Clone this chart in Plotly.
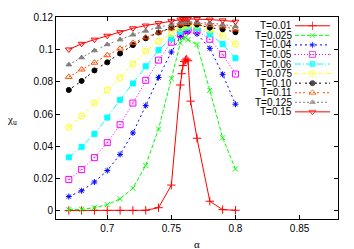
import plotly.graph_objects as go

# ---------------- data ----------------
alpha_left = [0.67, 0.68, 0.69, 0.70, 0.71, 0.72, 0.73, 0.74, 0.75]
alpha_peak = [0.757, 0.759, 0.761, 0.763]
alpha_right = [0.77, 0.78, 0.79, 0.80]
alpha_peak_001 = [0.757, 0.758, 0.759, 0.760, 0.761, 0.762, 0.763, 0.765]

labels = ["T=0.01", "T=0.025", "T=0.04", "T=0.05", "T=0.06",
          "T=0.075", "T=0.10", "T=0.11", "T=0.125", "T=0.15"]

chi_001 = [0.0003, 0.0003, 0.0003, 0.0003, 0.0003, 0.0003, 0.0004, 0.002, 0.016,
           0.078, 0.085, 0.090, 0.0925, 0.0935, 0.094, 0.093, 0.068,
           0.045, 0.006, 0.0008, 0.0004]
chi_0025 = [0.0008, 0.001, 0.002, 0.0039, 0.0075, 0.0141, 0.0282, 0.0507, 0.0819,
            0.104, 0.107, 0.1075, 0.106,
            0.1031, 0.0747, 0.0453, 0.026]
chi_004 = [0.0089, 0.0125, 0.0179, 0.025, 0.035, 0.0483, 0.0652, 0.0826, 0.0984,
           0.108, 0.1105, 0.1112, 0.1108,
           0.1096, 0.1007, 0.0846, 0.0661]
chi_005 = [0.0195, 0.0256, 0.033, 0.0423, 0.0534, 0.0668, 0.0809, 0.0934, 0.1045,
           0.1095, 0.112, 0.1125, 0.1122,
           0.1118, 0.1063, 0.0969, 0.0848]
chi_006 = [0.0332, 0.0397, 0.0477, 0.0578, 0.0688, 0.0789, 0.0896, 0.0996, 0.1067,
           0.111, 0.1133, 0.1138, 0.1136,
           0.1132, 0.1093, 0.1033, 0.0946]
chi_0075 = [0.0518, 0.0588, 0.0668, 0.0749, 0.0826, 0.091, 0.099, 0.1051, 0.1097,
            0.113, 0.1145, 0.115, 0.1148,
            0.1146, 0.1121, 0.1087, 0.1033]
chi_010 = [0.0749, 0.0805, 0.087, 0.092, 0.0975, 0.1027, 0.1069, 0.1105, 0.1135,
           0.115, 0.116, 0.1163, 0.116,
           0.1155, 0.1135, 0.1125, 0.1107]
chi_011 = [0.083, 0.0876, 0.0918, 0.0964, 0.1005, 0.1041, 0.1075, 0.1105, 0.113,
           0.1155, 0.1163, 0.1166, 0.1165,
           0.1163, 0.1153, 0.1143, 0.1125]
chi_0125 = [0.0906, 0.095, 0.0993, 0.1031, 0.1061, 0.1091, 0.1115, 0.1138, 0.1155,
            0.1167, 0.1172, 0.1174, 0.1173,
            0.117, 0.1163, 0.1155, 0.1143]
chi_015 = [0.1, 0.1035, 0.1061, 0.1085, 0.1107, 0.1131, 0.1148, 0.1163, 0.1175,
           0.1185, 0.1189, 0.119, 0.1189,
           0.1188, 0.1185, 0.118, 0.1172]

xticks = [0.7, 0.75, 0.8, 0.85]
yticks = [0, 0.02, 0.04, 0.06, 0.08, 0.1, 0.12]

# ---------------- styles (gnuplot postscript look) ----------------
styles = [
    dict(color="#ff0000", dash="solid", symbol="cross-thin-open", size=6),
    dict(color="#00ff00", dash="4px,2px", symbol="x-thin-open", size=5),
    dict(color="#0000ff", dash="2px,3px", symbol="asterisk-open", size=5),
    dict(color="#ff00ff", dash="1px,2px", symbol="square-open-dot", size=6),
    dict(color="#00ffff", dash="6px,2px,1px,2px", symbol="square", size=5),
    dict(color="#ffff00", dash="3px,2px,1px,2px", symbol="circle-open-dot", size=6),
    dict(color="#000000", dash="2px,2px,2px,4px", symbol="circle", size=5),
    dict(color="#ff4d00", dash="2px,2px,2px,2px,2px,4px", symbol="triangle-up-open", size=6),
    dict(color="#808080", dash="2px,2px,2px,2px,2px,2px,2px,4px", symbol="triangle-up", size=5),
    dict(color="#ff0000", dash="solid", symbol="triangle-down-open", size=6),
]

xs_std = alpha_left + alpha_peak + alpha_right
series = [
    (alpha_left + alpha_peak_001 + alpha_right, chi_001),
    (xs_std, chi_0025), (xs_std, chi_004), (xs_std, chi_005), (xs_std, chi_006),
    (xs_std, chi_0075), (xs_std, chi_010), (xs_std, chi_011), (xs_std, chi_0125),
    (xs_std, chi_015),
]

fig = go.Figure()
for (xs, ys), st, lab in zip(series, styles, labels):
    fig.add_trace(go.Scatter(
        x=xs, y=ys, mode="lines+markers", name=lab, showlegend=False,
        line=dict(color=st["color"], width=1, dash=st["dash"]),
        marker=dict(symbol=st["symbol"], size=st["size"], color=st["color"],
                    line=dict(color=st["color"], width=1)),
    ))

# ---------------- custom gnuplot-like key (on an overlay pixel axis) ----------------
plot_w, plot_h = 282, 207
row0, row_step = 9.0, 9.8
x_text, x_s0, x_s1 = 237, 239, 274
for i, (st, lab) in enumerate(zip(styles, labels)):
    ry = row0 + i * row_step
    fig.add_trace(go.Scatter(
        x=[x_s0, (x_s0 + x_s1) / 2, x_s1], y=[ry, ry, ry], xaxis="x2", yaxis="y2",
        mode="lines+markers", showlegend=False, hoverinfo="skip",
        line=dict(color=st["color"], width=1, dash=st["dash"]),
        marker=dict(symbol=st["symbol"], size=[0, st["size"], 0], color=st["color"],
                    line=dict(color=st["color"], width=1)),
    ))
    fig.add_annotation(x=x_text, y=ry, xref="x2", yref="y2", text=lab,
                       showarrow=False, xanchor="right", yanchor="middle",
                       height=9, valign="middle", borderpad=0,
                       font=dict(size=10, color="black"))

axis_common = dict(showline=True, linecolor="black", linewidth=1, mirror="ticks",
                   ticks="inside", ticklen=4, tickcolor="black", tickwidth=1,
                   showgrid=False, zeroline=False,
                   tickfont=dict(size=10, color="black"))

fig.update_layout(
    width=354, height=249,
    margin=dict(l=56, r=16, t=12, b=30),
    paper_bgcolor="white", plot_bgcolor="white",
    font=dict(family="Liberation Sans, Arial, sans-serif", size=10, color="black"),
    xaxis=dict(range=[0.66, 0.88], tickvals=xticks,
               ticktext=[str(v) for v in xticks], **axis_common),
    yaxis=dict(range=[-0.005, 0.1201], tickvals=yticks,
               ticktext=["0", "0.02", "0.04", "0.06", "0.08", "0.1", "0.12"],
               **axis_common),
    xaxis2=dict(range=[0, plot_w], overlaying="x", anchor="y2", visible=False),
    yaxis2=dict(range=[plot_h, 0], overlaying="y", anchor="x2", visible=False),
)

fig.add_annotation(text="α", xref="paper", yref="paper", x=0.5, y=-0.123,
                   showarrow=False, xanchor="center", yanchor="middle", borderpad=0,
                   font=dict(family="Liberation Serif, serif", size=11))
fig.add_annotation(text="χ<sub>u</sub>", xref="paper", yref="paper", x=-0.156, y=0.49,
                   showarrow=False, xanchor="center", yanchor="middle", borderpad=0,
                   font=dict(family="Liberation Serif, serif", size=11))

fig.write_html("out.html",
               config={"displayModeBar": False, "staticPlot": True},
               post_script="document.body.style.margin='0';"
                           "document.body.style.overflow='hidden';")
